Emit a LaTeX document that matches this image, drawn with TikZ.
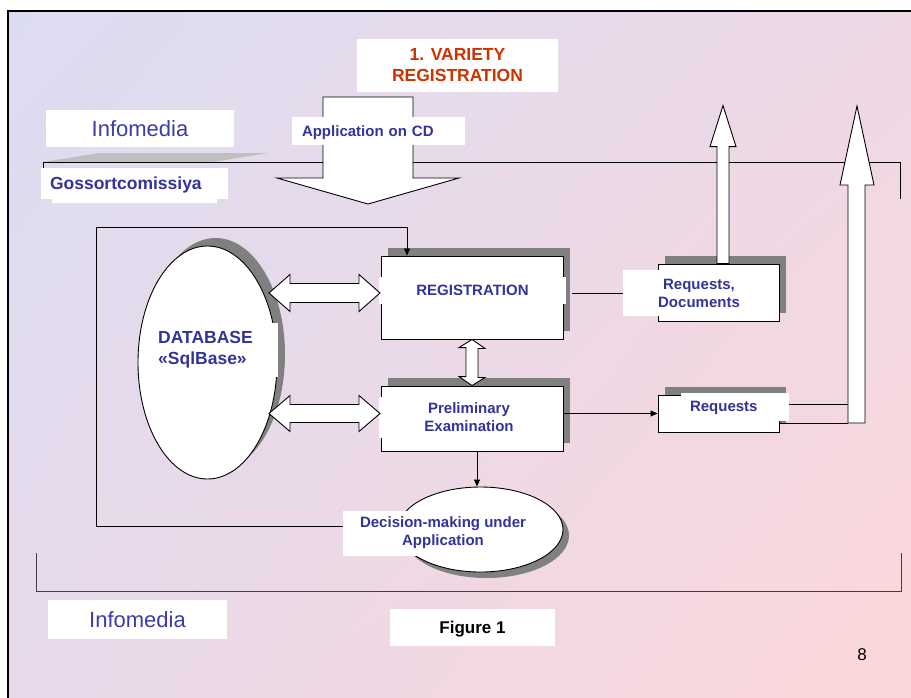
\documentclass[tikz,border=0pt]{standalone}
\usepackage{fontspec}
\setmainfont{Liberation Sans}
\usetikzlibrary{positioning,arrows.meta,shadows,shadings,shapes.geometric}

\definecolor{navytxt}{RGB}{51,51,153}
\definecolor{mediablue}{RGB}{60,60,170}
\definecolor{titlered}{RGB}{204,51,0}
\definecolor{shadowgray}{RGB}{128,128,128}
\definecolor{bgtl}{RGB}{220,220,241}
\definecolor{bgtr}{RGB}{238,216,230}
\definecolor{bgbl}{RGB}{231,217,235}
\definecolor{bgbr}{RGB}{253,215,216}

\begin{document}
\begin{tikzpicture}[
  x=1pt, y=-1pt,
  procbox/.style={draw, fill=white, line width=0.9pt, inner sep=0pt,
    drop shadow={shadow xshift=7pt, shadow yshift=8pt, fill=shadowgray, opacity=1}},
  dbell/.style={draw, ellipse, fill=white, line width=0.9pt, inner sep=0pt},
  lbl/.style={fill=white, inner sep=0pt, text=navytxt, align=center,
    font=\bfseries\fontsize{15}{18}\selectfont},
  oneline/.style={text height=#1, text depth=0pt},
  oneline/.default=10.7pt,
  medialbl/.style={fill=white, inner sep=0pt, text=mediablue, oneline=15.8pt,
    font=\fontsize{22}{26}\selectfont},
  blockarrow/.style={draw, fill=white, line width=0.9pt, line join=miter},
  conn/.style={draw, line width=0.8pt},
  arr/.style={conn, -{Triangle[length=7pt,width=6pt]}},
]
  % page and frame
  \useasboundingbox (0,0) rectangle (911,697);
  \clip (0,0) rectangle (911,697);
  \shade[upper left=bgtl, upper right=bgtr, lower left=bgbl, lower right=bgbr]
    (8,11) rectangle (930,720);
  \draw[line width=2.5pt] (8,720) -- (8,11) -- (930,11);

  % Gossortcomissiya bracket
  \fill[black!25] (43,162) -- (100,153) -- (268,153) -- (213,162) -- cycle;
  \draw[conn] (43,168) -- (43,162) -- (900,162) -- (900,199);
  % Infomedia bracket
  \draw[conn, black!75] (36,553) -- (36,591) -- (901,591) -- (901,553);

  % header
  \node[medialbl, minimum width=188pt, minimum height=37pt] (mediatop) at (140,128.5) {Infomedia};
  \fill[white] (52,195) rectangle (217,203);
  \node[lbl, oneline=12.5pt, font=\bfseries\fontsize{17.5}{21}\selectfont, text width=169pt, inner xsep=9pt,
    align=left, minimum height=31pt] (goss) at (134.5,183.5) {Gossortcomissiya};
  \node[lbl, text=titlered, font=\bfseries\fontsize{17.5}{21}\selectfont,
    minimum width=201pt, minimum height=53pt] (title) at (457.5,65) {1. VARIETY\\REGISTRATION};

  % incoming application
  \draw[blockarrow] (323,97) -- (413,97) -- (413,178) -- (459,178) -- (368,204)
    -- (277,178) -- (323,178) -- cycle;
  \node[lbl, oneline, text width=153pt, inner xsep=10pt, align=left, minimum height=28pt]
    (appcd) at (378.5,131) {Application on CD};

  % database
  \node[dbell, minimum width=139pt, minimum height=233pt,
    drop shadow={shadow xshift=8pt, shadow yshift=8pt, fill=shadowgray, opacity=1}] (db) at (207.5,362.5) {};
  \node[lbl, font=\bfseries\fontsize{17.5}{21}\selectfont, text width=110pt, inner xsep=10pt,
    align=left, minimum height=54pt, anchor=west] (dbtxt) at (148,350) {DATABASE\\«SqlBase»};

  % process boxes
  \node[procbox, minimum width=182pt, minimum height=83pt] (reg) at (472,297.5) {};
  \node[lbl, oneline, minimum width=187pt, minimum height=27pt] (regtxt) at (472.5,290) {REGISTRATION};
  \node[procbox, minimum width=182pt, minimum height=65pt] (pre) at (472,418.5) {};
  \node[lbl, minimum width=180pt, minimum height=41pt] (pretxt) at (469,417) {Preliminary\\Examination};

  % outputs
  \node[procbox, minimum width=121pt, minimum height=57pt] (reqdoc) at (718.5,292.5) {};
  \node[lbl, minimum width=152pt, minimum height=46pt] (reqdoctxt) at (699,293) {Requests,\\Documents};
  \node[procbox, minimum width=121pt, minimum height=37pt] (req) at (718.5,413.5) {};
  \node[lbl, oneline, text width=90pt, inner xsep=9pt, align=left, minimum height=28pt] (reqtxt) at (735,406.5) {Requests};

  % decision
  \node[dbell, minimum width=165pt, minimum height=85pt,
    drop shadow={shadow xshift=6pt, shadow yshift=-6pt, fill=shadowgray, opacity=1}] (dec) at (480.5,529.5) {};
  \node[lbl, minimum width=200pt, minimum height=45pt] (dectxt) at (443,533) {Decision-making under\\Application};

  % exchange with the database
  \draw[blockarrow] (269,293) -- ++(21,-18.5) -- ++(0,9) -- ++(69,0) -- ++(0,-9) -- ++(21,18.5)
    -- ++(-21,18.5) -- ++(0,-9) -- ++(-69,0) -- ++(0,9) -- cycle;
  \draw[blockarrow] (269,413.5) -- ++(21,-18) -- ++(0,9) -- ++(69,0) -- ++(0,-9) -- ++(21,18)
    -- ++(-21,18) -- ++(0,-9) -- ++(-69,0) -- ++(0,9) -- cycle;
  \draw[blockarrow] (reg.south) -- ++(13,9) -- ++(-7,0) -- ++(0,29) -- ++(7,0) -- (pre.north)
    -- ++(-13,-9) -- ++(7,0) -- ++(0,-29) -- ++(-7,0) -- cycle;

  % outgoing arrows
  \draw[blockarrow] ([xshift=-1.5pt]reqdoc.north) -- ++(0,-117) -- ++(-7,0) -- ++(13,-41)
    -- ++(13,41) -- ++(-7,0) -- ++(0,117) -- cycle;
  \coordinate (rbar) at (848,423);
  \draw[blockarrow] (rbar) -- ++(0,-238) -- ++(-8,0) -- ++(17,-79) -- ++(17,79)
    -- ++(-9,0) -- ++(0,238) -- cycle;

  % connectors
  \draw[arr] ([yshift=7pt]dectxt.west) -| (96,227) -| ([xshift=-65pt]reg.north);
  \draw[conn] ([xshift=9pt]reg.east |- reqdoctxt.west) -- (reqdoctxt.west);
  \draw[arr] (pre.east |- req.west) -- (req.west);
  \draw[arr] ([xshift=5pt]pre.south) -- ([xshift=-3.5pt]dec.north);
  \draw[conn] ([yshift=2.5pt]reqtxt.east) -- ([yshift=2.5pt]reqtxt.east -| rbar);
  \draw[conn] (req.east |- rbar) -- (rbar);

  % footer
  \node[medialbl, minimum width=179pt, minimum height=39pt] (mediabot) at (137.5,619.5) {Infomedia};
  \node[fill=white, inner sep=0pt, oneline=12.2pt, font=\bfseries\fontsize{17}{20}\selectfont,
    minimum width=165pt, minimum height=37pt] (fig) at (472.5,627.5) {Figure 1};
  \node[font=\fontsize{17}{20}\selectfont] (pagenum) at (862,655) {8};
\end{tikzpicture}
\end{document}
